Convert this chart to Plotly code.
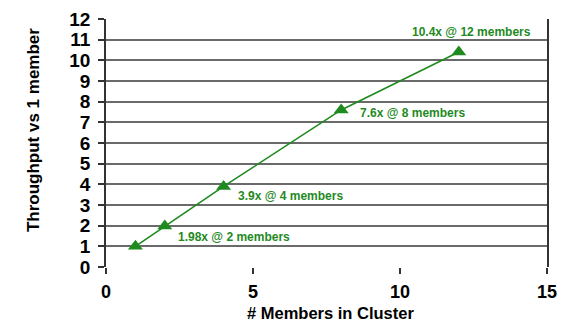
import plotly.graph_objects as go

# Cluster scaling measurements
members = [1, 2, 4, 8, 12]
speedup = [1.0, 1.98, 3.9, 7.6, 10.4]
point_labels = ["", "1.98x @ 2 members", "3.9x @ 4 members",
                "7.6x @ 8 members", "10.4x @ 12 members"]
x_ticks = [0, 5, 10, 15]
y_ticks = list(range(0, 13))

green = "#1f8a1f"
grid = "#6a6a6a"
font_family = "Liberation Sans, Arial, sans-serif"

fig = go.Figure()
fig.add_trace(go.Scatter(
    x=members, y=speedup, mode="lines+markers",
    line=dict(color=green, width=1.6),
    marker=dict(symbol="triangle-up", size=13, color=green),
    showlegend=False, hoverinfo="skip",
))

# Label placement offsets (pixels) relative to each point
offsets = {1: (11, 11), 2: (12, 10), 3: (17, 3), 4: (-49, -20)}
for i, txt in enumerate(point_labels):
    if not txt:
        continue
    dx, dy = offsets[i]
    fig.add_annotation(
        x=members[i], y=speedup[i], xref="x", yref="y",
        text=f"<b>{txt}</b>", showarrow=False,
        xanchor="left", yanchor="middle", xshift=dx, yshift=-dy,
        font=dict(family=font_family, size=12, color=green),
    )

# Axis titles
fig.add_annotation(
    x=0.508, y=-0.2258, xref="paper", yref="paper",
    text="<b># Members in Cluster</b>", showarrow=False,
    xanchor="center", yanchor="bottom", borderpad=0,
    font=dict(family=font_family, size=16.5, color="black"),
)
fig.add_annotation(
    x=-0.1655, y=0.552, xref="paper", yref="paper",
    text="<b>Throughput vs 1 member</b>", showarrow=False, textangle=-90,
    xanchor="center", yanchor="middle",
    font=dict(family=font_family, size=17, color="black"),
)

fig.update_layout(
    width=562, height=323,
    margin=dict(l=106, r=15, t=19, b=56),
    plot_bgcolor="white", paper_bgcolor="white",
    font=dict(family=font_family, color="black"),
    xaxis=dict(
        range=[0, 15], tickvals=x_ticks, ticktext=[f"<b>{v}</b>" for v in x_ticks],
        showgrid=False, zeroline=False, automargin=False,
        showline=False, ticks="outside", ticklen=6, tickwidth=1.5, tickcolor="#333",
        tickfont=dict(size=18), ticklabelstandoff=2,
    ),
    yaxis=dict(
        range=[0, 12], tickvals=y_ticks, ticktext=[f"<b>{v}</b>" for v in y_ticks],
        showgrid=True, gridcolor=grid, gridwidth=1.5, zeroline=False, automargin=False,
        showline=True, linecolor="#333", linewidth=1.5, mirror=True,
        ticks="outside", ticklen=6, tickwidth=1.5, tickcolor="#333",
        tickfont=dict(size=19), ticklabelstandoff=4,
    ),
)

fig.write_html("out.html")
